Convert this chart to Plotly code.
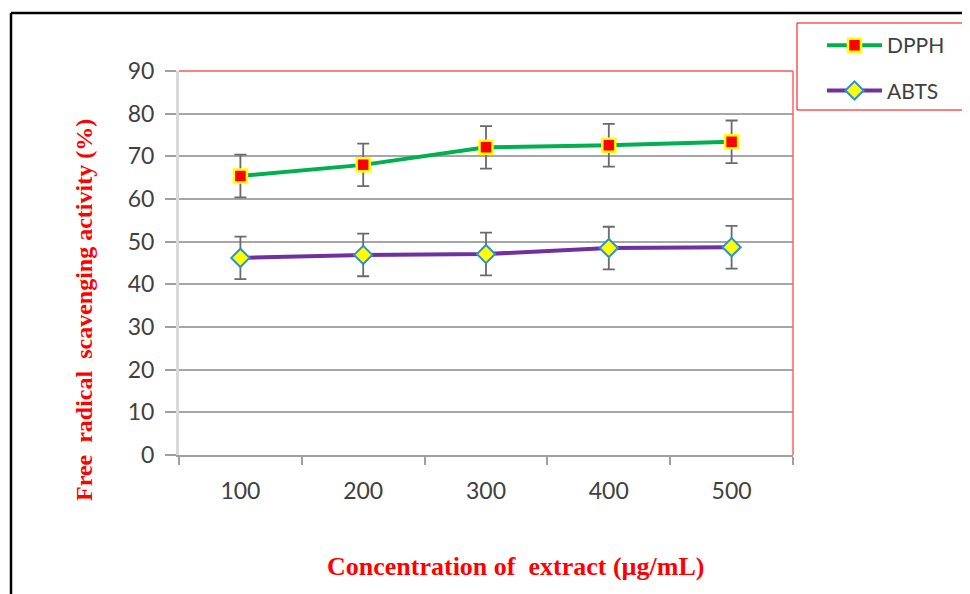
import plotly.graph_objects as go

concentrations = ["100", "200", "300", "400", "500"]
dpph = [65.4, 68.0, 72.1, 72.6, 73.4]
dpph_err = [5.0, 5.0, 5.0, 5.0, 5.0]
abts = [46.2, 46.9, 47.1, 48.5, 48.7]
abts_err = [5.0, 5.0, 5.0, 5.0, 5.0]

W, H = 970, 594
OFF = 8  # page body margin offset
SX0, SX1, SY0, SY1 = 179, 793, 71, 455
L, R, T, B = SX0 - OFF, W - (SX1 - OFF), SY0 - OFF, H - (SY1 - OFF)
pw, ph = W - L - R, H - T - B

def px(x):
    return (x - OFF - L) / pw

def py(y):
    return (H - B - (y - OFF)) / ph

fig = go.Figure()
fig.add_trace(go.Scatter(
    x=concentrations, y=dpph, name="DPPH", mode="lines+markers",
    legendgroup="a",
    line=dict(color="#00b050", width=4),
    marker=dict(symbol="square", size=13, color="#ff0000", line=dict(color="#ffff00", width=2.5)),
    error_y=dict(type="data", array=dpph_err, visible=True, color="#6a6a6a", thickness=1.8, width=6),
))
fig.add_trace(go.Scatter(
    x=concentrations, y=abts, name="ABTS", mode="lines+markers",
    legendgroup="b",
    line=dict(color="#7030a0", width=4),
    marker=dict(symbol="diamond", size=14, color="#ffff00", line=dict(color="#2e8fd6", width=2)),
    error_y=dict(type="data", array=abts_err, visible=True, color="#6a6a6a", thickness=1.8, width=6),
))

shapes = [
    dict(type="line", xref="paper", yref="paper", x0=0, x1=1, y0=1, y1=1, line=dict(color="#ff0000", width=1)),
    dict(type="line", xref="paper", yref="paper", x0=1, x1=1, y0=0, y1=1, line=dict(color="#ff6060", width=1.5)),
    dict(type="rect", xref="paper", yref="paper", x0=px(797), x1=px(968), y0=py(110), y1=py(23),
         line=dict(color="#ff0000", width=1)),
    dict(type="line", xref="paper", yref="paper", x0=px(11), x1=px(11), y0=py(13), y1=py(610),
         line=dict(color="#000000", width=2.5)),
    dict(type="line", xref="paper", yref="paper", x0=px(11), x1=px(985), y0=py(13), y1=py(13),
         line=dict(color="#000000", width=2.5)),
]

annotations = [
    dict(text="<b>Concentration of  extract (µg/mL)</b>", xref="paper", yref="paper",
         x=px(515), y=py(566), showarrow=False, xanchor="center", yanchor="middle",
         font=dict(family="Liberation Serif", size=26, color="#ff0000")),
    dict(text="<b>Free  radical  scavenging activity (%)</b>", xref="paper", yref="paper",
         x=px(84), y=py(310), showarrow=False, xanchor="center", yanchor="middle", textangle=-90,
         font=dict(family="Liberation Serif", size=24, color="#ff0000")),
]

fig.update_layout(
    width=W, height=H,
    margin=dict(l=L, r=R, t=T, b=B),
    paper_bgcolor="white", plot_bgcolor="white",
    shapes=shapes, annotations=annotations,
    showlegend=True,
    legend=dict(x=px(822), y=py(25), xanchor="left", yanchor="top",
                bgcolor="rgba(0,0,0,0)", borderwidth=0, tracegroupgap=15, itemwidth=55,
                font=dict(family="Lato", size=21, color="#404040")),
    xaxis=dict(type="category", showgrid=False, showline=True, linecolor="#a0a0a0", linewidth=1.5,
               ticks="outside", tickson="boundaries", ticklen=8, tickcolor="#a0a0a0", tickwidth=1.5,
               ticklabelstandoff=15, tickfont=dict(family="Lato", size=23, color="#404040"),
               range=[-0.5, 4.5], fixedrange=True),
    yaxis=dict(range=[0, 90], tickvals=[0, 10, 20, 30, 40, 50, 60, 70, 80, 90],
               showgrid=True, gridcolor="#a6a6a6", gridwidth=1.5,
               showline=True, linecolor="#d9d9d9", linewidth=3,
               ticks="outside", ticklen=11, tickcolor="#a0a0a0", tickwidth=1.5,
               ticklabelstandoff=6, tickfont=dict(family="Lato", size=23, color="#404040"),
               zeroline=False, fixedrange=True),
)

fig.write_html("out.html")
